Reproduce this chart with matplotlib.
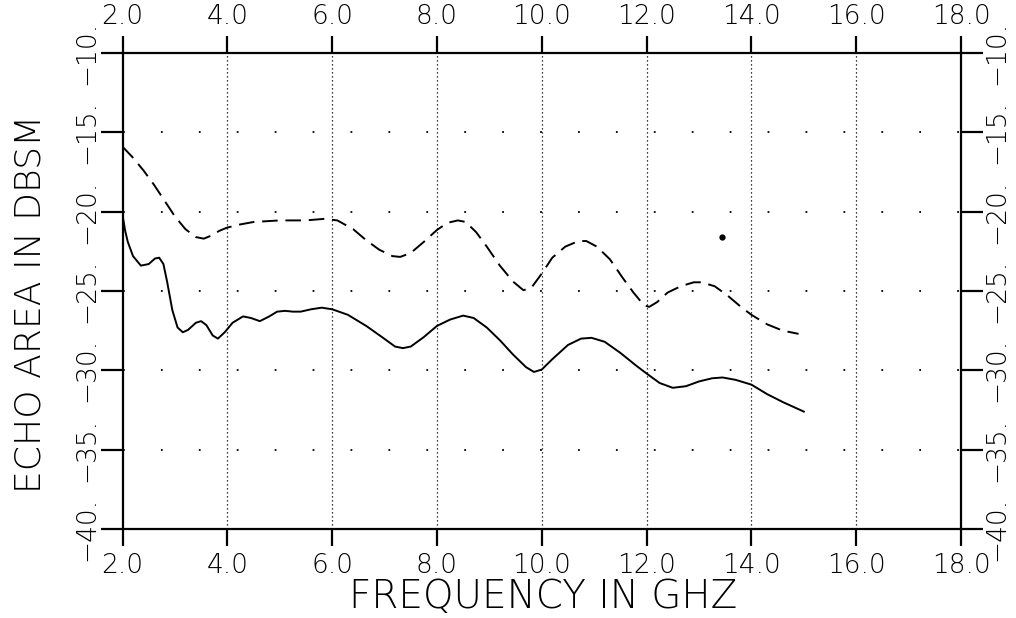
import matplotlib
matplotlib.use("Agg")
import matplotlib.pyplot as plt

# ---- data ----
solid_f = [2.0, 2.05, 2.1, 2.2, 2.35, 2.5, 2.62, 2.7, 2.78, 2.85, 2.95, 3.05, 3.15, 3.25,
           3.4, 3.5, 3.6, 3.72, 3.82, 3.95, 4.1, 4.3, 4.45, 4.62, 4.8, 4.95, 5.1, 5.25,
           5.4, 5.6, 5.8, 6.0, 6.3, 6.65, 6.95, 7.2, 7.35, 7.5, 7.75, 8.0, 8.25, 8.5,
           8.7, 8.95, 9.2, 9.45, 9.7, 9.85, 10.0, 10.2, 10.5, 10.75, 10.95, 11.2, 11.5,
           11.8, 12.0, 12.25, 12.5, 12.75, 13.0, 13.25, 13.45, 13.7, 14.0, 14.3, 14.6,
           15.0]
solid_db = [-20.2, -21.2, -21.9, -22.8, -23.4, -23.3, -22.95, -22.9, -23.3, -24.4, -26.2,
            -27.3, -27.6, -27.45, -27.0, -26.9, -27.15, -27.8, -28.0, -27.6, -27.0,
            -26.6, -26.7, -26.9, -26.6, -26.3, -26.25, -26.3, -26.3, -26.15, -26.05,
            -26.15, -26.5, -27.2, -27.9, -28.5, -28.6, -28.5, -27.9, -27.2, -26.8,
            -26.55, -26.7, -27.3, -28.1, -29.0, -29.8, -30.1, -29.95, -29.3, -28.4,
            -28.0, -27.95, -28.2, -28.9, -29.7, -30.2, -30.8, -31.1, -31.0, -30.7,
            -30.5, -30.45, -30.6, -30.9, -31.5, -32.0, -32.6]

dashed_f = [2.0, 2.2, 2.4, 2.6, 2.8, 3.0, 3.2, 3.4, 3.55, 3.7, 3.85, 4.0, 4.25, 4.5, 4.75,
            5.0, 5.5, 5.85, 6.1, 6.4, 6.65, 6.9, 7.15, 7.3, 7.5, 7.75, 8.0, 8.2, 8.4, 8.55,
            8.75, 8.95, 9.2, 9.45, 9.65, 9.8, 10.0, 10.2, 10.45, 10.7, 10.85, 11.05, 11.3,
            11.55, 11.75, 11.95, 12.05, 12.2, 12.4, 12.65, 12.9, 13.05, 13.3, 13.55, 13.8,
            14.0, 14.3, 14.6, 14.9]
dashed_db = [-15.9, -16.6, -17.4, -18.3, -19.3, -20.3, -21.1, -21.6, -21.7, -21.5, -21.2,
             -21.0, -20.8, -20.65, -20.6, -20.55, -20.55, -20.45, -20.55, -21.1, -21.8,
             -22.4, -22.8, -22.85, -22.6, -21.9, -21.15, -20.7, -20.55, -20.65, -21.3,
             -22.2, -23.4, -24.4, -24.95, -24.8, -23.9, -22.9, -22.2, -21.85, -21.85,
             -22.2, -23.0, -24.2, -25.1, -25.9, -26.0, -25.7, -25.1, -24.7, -24.45,
             -24.45, -24.7, -25.3, -26.0, -26.5, -27.1, -27.5, -27.7]

blot_f = [13.44]
blot_db = [-21.6]

x_ticks = [2.0, 4.0, 6.0, 8.0, 10.0, 12.0, 14.0, 16.0, 18.0]
x_ticklabels = ["2.0", "4.0", "6.0", "8.0", "10.0", "12.0", "14.0", "16.0", "18.0"]
y_ticks = [-40, -35, -30, -25, -20, -15, -10]
y_ticklabels = ["\u221240.", "\u221235.", "\u221230.", "\u221225.", "\u221220.", "\u221215.", "\u221210."]

x_label = "FREQUENCY IN GHZ"
y_label = "ECHO AREA IN DBSM"

# ---- figure ----
fig = plt.figure(figsize=(10.16, 6.18), dpi=100)
ax = fig.add_axes([0.1206, 0.144, 0.8253, 0.7702])

ax.set_xlim(2, 18)
ax.set_ylim(-40, -10)

# grid: dense dotted verticals, sparse dotted horizontals
for xv in x_ticks[1:-1]:
    ax.axvline(xv, color="black", lw=0.9, linestyle=(0, (1, 2.2)), zorder=1)
for yv in y_ticks[1:-1]:
    ax.axhline(yv, color="black", lw=1.3, linestyle=(0, (1, 20)), zorder=1)

ax.plot(solid_f, solid_db, color="black", lw=1.4, zorder=3)
ax.plot(dashed_f, dashed_db, color="black", lw=1.4, linestyle=(0, (8, 4)), zorder=3)
ax.plot(blot_f, blot_db, marker="o", ms=3.5, color="black", linestyle="none", zorder=3)

for s in ax.spines.values():
    s.set_linewidth(1.6)

ax.set_xticks(x_ticks)
ax.set_xticklabels(x_ticklabels)
ax.set_yticks(y_ticks)
ax.set_yticklabels(y_ticklabels)

ax.tick_params(axis="x", which="both", direction="out", length=12, width=1.6,
               top=True, labeltop=True, bottom=True, labelbottom=True, pad=5,
               labelsize=19)
ax.tick_params(axis="y", which="both", direction="out", length=16, width=1.6,
               left=True, right=True, labelleft=True, labelright=True, pad=1,
               labelsize=19)
for t in ax.yaxis.get_major_ticks():
    for lab in (t.label1, t.label2):
        lab.set_va("center")
        lab.set_rotation(90)
        lab.set_fontweight("light")
for t in ax.xaxis.get_major_ticks():
    t.label1.set_fontweight("light")
    t.label2.set_fontweight("light")

fig.text(0.535, 0.034, x_label, ha="center", va="center", fontsize=28,
         fontweight="light")
fig.text(0.030, 0.508, y_label, ha="center", va="center", rotation=90,
         fontsize=26, fontweight="light")

fig.savefig("out.png", dpi=100)
